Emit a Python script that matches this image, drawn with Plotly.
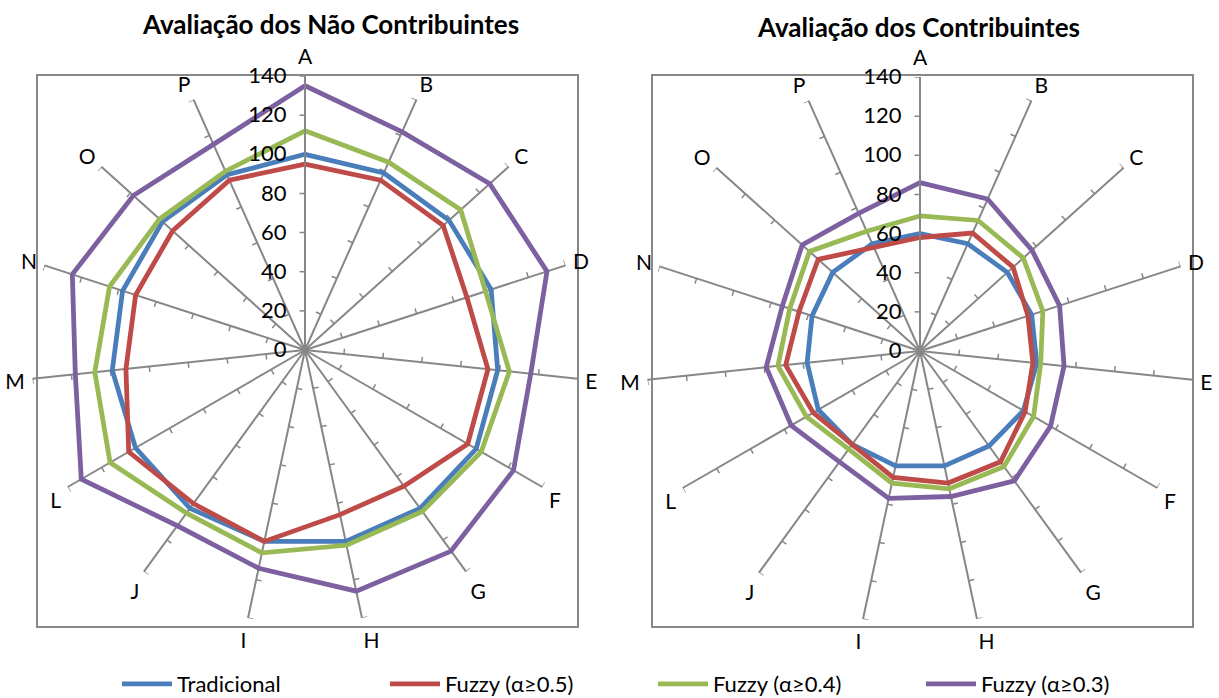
import math
import plotly.graph_objects as go

# Categories around each radar (clockwise from the top)
categories = ["A", "B", "C", "D", "E", "F", "G", "H", "I", "J", "L", "M", "N", "O", "P"]

# Avaliação dos Não Contribuintes
nc_tradicional = [100, 99, 99, 100, 99, 101, 100, 100, 100, 100, 100, 99, 98, 98, 98]
nc_fuzzy_05 = [95, 95, 95, 87, 94, 96, 86, 86, 100, 97, 104, 92, 91, 91, 95]
nc_fuzzy_04 = [112, 105, 107, 97, 105, 104, 102, 102, 106, 103, 115, 108, 105, 100, 100]
nc_fuzzy_03 = [135, 122, 127, 130, 116, 123, 127, 126, 114, 111, 132, 118, 125, 118, 115]

# Avaliação dos Contribuintes
c_tradicional = [60, 60, 60, 60, 60, 61, 60, 60, 60, 59, 60, 58, 58, 60, 60]
c_fuzzy_05 = [58, 66, 64, 58, 58, 62, 70, 69, 66, 59, 63, 69, 65, 70, 58]
c_fuzzy_04 = [69, 73, 71, 66, 62, 67, 73, 72, 69, 62, 67, 73, 70, 76, 67]
c_fuzzy_03 = [86, 85, 77, 75, 74, 77, 82, 76, 77, 70, 76, 79, 74, 81, 77]

series_names = ["Tradicional", "Fuzzy (α≥0.5)", "Fuzzy (α≥0.4)", "Fuzzy (α≥0.3)"]
series_colors = ["#4A7EBB", "#BE4B48", "#98B954", "#7D60A0"]

radial_ticks = [0, 20, 40, 60, 80, 100, 120, 140]
r_max = 140

W, H = 1219, 698
FONT = "Lato"
GRID = "#878787"

angles = [i * 360 / len(categories) for i in range(len(categories))]


def spoke_ticks(tick_len=2.8):
    """Short marks on the counter-clockwise side of every spoke."""
    rr, tt = [], []
    for a in angles:
        for v in radial_ticks[1:]:
            rr += [v, math.hypot(v, tick_len), None]
            tt += [a, a - math.degrees(math.atan2(tick_len, v)), None]
    return rr, tt


fig = go.Figure()

panels = [
    ("polar", [nc_tradicional, nc_fuzzy_05, nc_fuzzy_04, nc_fuzzy_03]),
    ("polar2", [c_tradicional, c_fuzzy_05, c_fuzzy_04, c_fuzzy_03]),
]

for subplot, _ in panels:
    tr, tth = spoke_ticks()
    fig.add_trace(go.Scatterpolar(
        r=tr, theta=tth, mode="lines", subplot=subplot,
        line=dict(color=GRID, width=1.5), showlegend=False, hoverinfo="skip",
    ))

for subplot, values in panels:
    for name, vals, color in zip(series_names, values, series_colors):
        fig.add_trace(go.Scatterpolar(
            r=vals + vals[:1], theta=angles + angles[:1], mode="lines",
            subplot=subplot, name=name, legendgroup=name,
            showlegend=(subplot == "polar"),
            line=dict(color=color, width=4.8),
        ))


def polar_layout(x0, x1, y0, y1):
    return dict(
        domain=dict(x=[x0 / W, x1 / W], y=[1 - y1 / H, 1 - y0 / H]),
        bgcolor="rgba(0,0,0,0)",
        angularaxis=dict(
            rotation=90, direction="clockwise",
            tickmode="array", tickvals=angles, ticktext=categories,
            showgrid=True, gridcolor=GRID, gridwidth=1.5,
            showline=False, ticks="outside", ticklen=3, tickcolor="rgba(0,0,0,0)",
            tickfont=dict(family=FONT, size=21, color="black"),
        ),
        radialaxis=dict(
            range=[0, r_max], tickmode="array", tickvals=radial_ticks,
            showgrid=False, showline=True, linecolor=GRID, linewidth=1.5,
            ticks="outside", ticklen=10, tickcolor="rgba(0,0,0,0)",
            angle=90, side="counterclockwise", tickangle=90,
            tickfont=dict(family=FONT, size=22, color="black"),
        ),
    )


fig.update_layout(
    width=W, height=H,
    margin=dict(l=0, r=0, t=0, b=0, autoexpand=False),
    paper_bgcolor="white", plot_bgcolor="white",
    font=dict(family=FONT, size=20, color="black"),
    polar=polar_layout(31, 579, 76, 624),
    polar2=polar_layout(646, 1194, 77, 625),
    showlegend=True,
    legend=dict(
        orientation="h", x=117 / W, xanchor="left", y=1 - 684 / H, yanchor="middle",
        entrywidth=203, entrywidthmode="pixels", itemwidth=50,
        font=dict(family=FONT, size=22, color="black"),
        bgcolor="rgba(0,0,0,0)",
    ),
    shapes=[
        dict(type="rect", xref="paper", yref="paper",
             x0=37 / W, x1=578 / W, y0=1 - 627 / H, y1=1 - 75 / H,
             line=dict(color=GRID, width=2), layer="below"),
        dict(type="rect", xref="paper", yref="paper",
             x0=652 / W, x1=1193 / W, y0=1 - 627 / H, y1=1 - 75 / H,
             line=dict(color=GRID, width=2), layer="below"),
    ],
    annotations=[
        dict(text="<b>Avaliação dos Não Contribuintes</b>", x=330 / W, y=1 - 24 / H,
             xref="paper", yref="paper", xanchor="center", yanchor="middle",
             showarrow=False, font=dict(family=FONT, size=26, color="black")),
        dict(text="<b>Avaliação dos Contribuintes</b>", x=918 / W, y=1 - 27 / H,
             xref="paper", yref="paper", xanchor="center", yanchor="middle",
             showarrow=False, font=dict(family=FONT, size=26, color="black")),
    ],
)

fig.write_html("out.html")
